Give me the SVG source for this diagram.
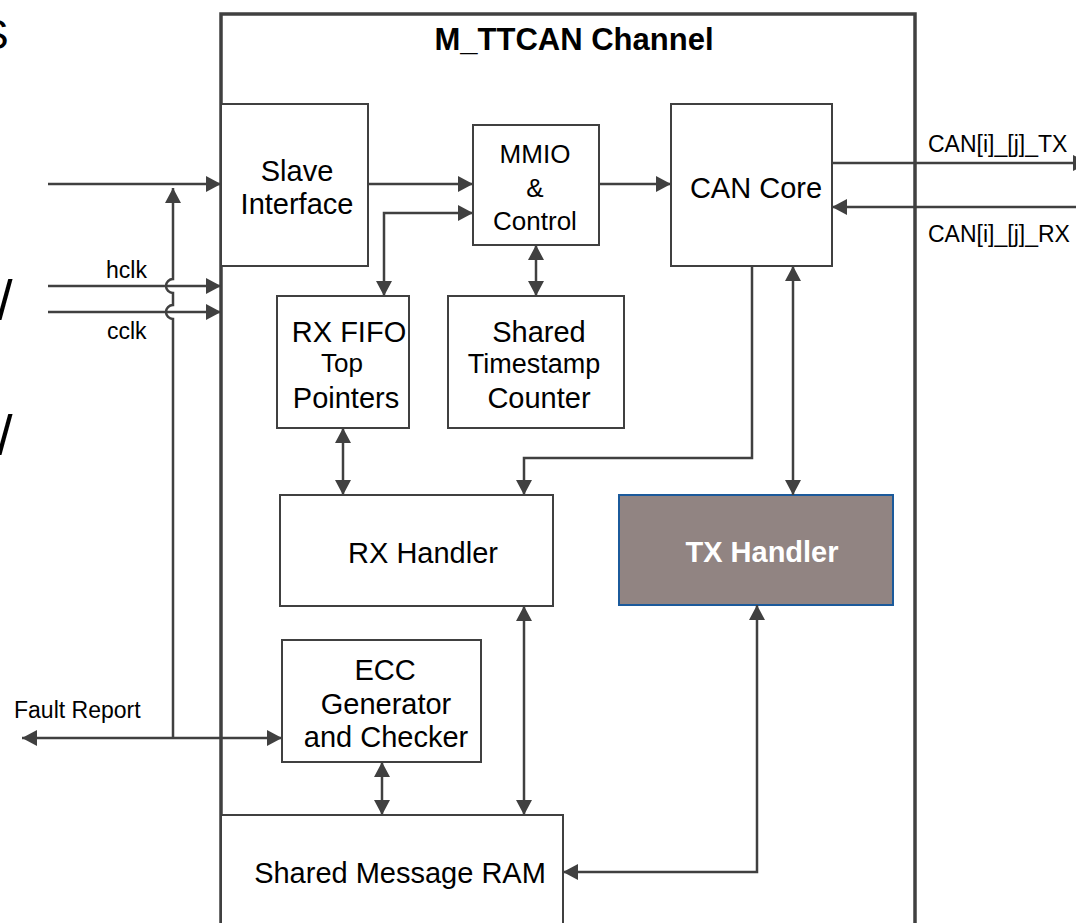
<svg xmlns="http://www.w3.org/2000/svg" width="1076" height="923" viewBox="0 0 1076 923">
<style>
.box{fill:#fff;stroke:#404040;stroke-width:2}
.outer{fill:none;stroke:#404040;stroke-width:3.5}
.t{font-family:"Liberation Sans",Arial,sans-serif;fill:#000;text-anchor:middle}
.lbl{font-family:"Liberation Sans",Arial,sans-serif;fill:#000;font-size:23px}
.c{fill:none;stroke:#404040;stroke-width:2.5}
.a1{marker-end:url(#ah)}
.a2{marker-start:url(#ah);marker-end:url(#ah)}
</style>
<defs>
<marker id="ah" viewBox="0 0 15 16" refX="15" refY="8" markerWidth="15" markerHeight="16" markerUnits="userSpaceOnUse" orient="auto-start-reverse">
<path d="M0,0 L15,8 L0,16 z" fill="#404040"/>
</marker>
</defs>
<rect width="1076" height="923" fill="#fff"/>
<g id="fragments">
<text x="-20" y="49" font-family="Liberation Sans, Arial, sans-serif" font-size="43">S</text>
<text x="-3" y="319" font-family="Liberation Sans, Arial, sans-serif" font-size="56">/</text>
<text x="-3" y="454" font-family="Liberation Sans, Arial, sans-serif" font-size="56">/</text>
</g>
<g id="channel">
<rect class="outer" x="221" y="14" width="694" height="940"/>
<text class="t" x="574" y="50" font-size="31" font-weight="bold">M_TTCAN Channel</text>
</g>
<g id="slave">
<rect class="box" x="221" y="104" width="147" height="162"/>
<text class="t" x="297" y="181" font-size="29">Slave</text>
<text class="t" x="297" y="214" font-size="29">Interface</text>
</g>
<g id="mmio">
<rect class="box" x="473" y="125" width="126" height="120"/>
<text class="t" x="535" y="163" font-size="26">MMIO</text>
<text class="t" x="535" y="197" font-size="26">&amp;</text>
<text class="t" x="535" y="230" font-size="26">Control</text>
</g>
<g id="cancore">
<rect class="box" x="671" y="104" width="161" height="162"/>
<text class="t" x="756" y="198" font-size="29">CAN Core</text>
</g>
<g id="rxfifo">
<rect class="box" x="277" y="296" width="132" height="132"/>
<text class="t" x="349" y="342" font-size="29">RX FIFO</text>
<text class="t" x="342" y="372" font-size="26">Top</text>
<text class="t" x="346" y="408" font-size="29">Pointers</text>
</g>
<g id="timestamp">
<rect class="box" x="448" y="296" width="176" height="132"/>
<text class="t" x="539" y="342" font-size="29">Shared</text>
<text class="t" x="534" y="373" font-size="27">Timestamp</text>
<text class="t" x="539" y="408" font-size="29">Counter</text>
</g>
<g id="rxhandler">
<rect class="box" x="280" y="495" width="273" height="111"/>
<text class="t" x="423" y="563" font-size="29">RX Handler</text>
</g>
<g id="txhandler">
<rect x="619" y="495" width="274" height="110" fill="#918482" stroke="#1b5a9b" stroke-width="2"/>
<text class="t" x="762" y="562" font-size="29" font-weight="bold" style="fill:#fff">TX Handler</text>
</g>
<g id="ecc">
<rect class="box" x="282" y="640" width="199" height="122"/>
<text class="t" x="385" y="680" font-size="29">ECC</text>
<text class="t" x="386" y="714" font-size="29">Generator</text>
<text class="t" x="386" y="747" font-size="29">and Checker</text>
</g>
<g id="ram">
<rect class="box" x="221" y="815" width="342" height="130"/>
<text class="t" x="400" y="883" font-size="29">Shared Message RAM</text>
</g>
<g id="labels">
<text class="lbl" x="106" y="278">hclk</text>
<text class="lbl" x="107" y="339">cclk</text>
<text class="lbl" x="14" y="718">Fault Report</text>
<text class="lbl" x="928" y="152" font-size="24">CAN[i]_[j]_TX</text>
<text class="lbl" x="928" y="242" font-size="24">CAN[i]_[j]_RX</text>
</g>
<g id="connectors">
<path class="c a1" d="M48,184 H221"/>
<path class="c a1" d="M48,286 H221"/>
<path class="c a1" d="M48,312 H221"/>
<path class="c a1" d="M173,738 V319 A7,7 0 0 1 173,305 V293 A7,7 0 0 1 173,279 V188"/>
<path class="c a2" d="M282,738 H22"/>
<path class="c a1" d="M368,184 H473"/>
<path class="c a1" d="M599,184 H671"/>
<path class="c a2" d="M384,296 V213 H473"/>
<path class="c a2" d="M536,245 V296"/>
<path class="c a1" d="M832,163 H1088"/>
<path class="c a1" d="M1080,207 H832"/>
<path class="c a1" d="M752,266 V458 H524 V495"/>
<path class="c a2" d="M793,266 V495"/>
<path class="c a2" d="M343,428 V495"/>
<path class="c a2" d="M382,762 V815"/>
<path class="c a2" d="M524,606 V815"/>
<path class="c a2" d="M757,605 V872 H563"/>
</g>
</svg>
